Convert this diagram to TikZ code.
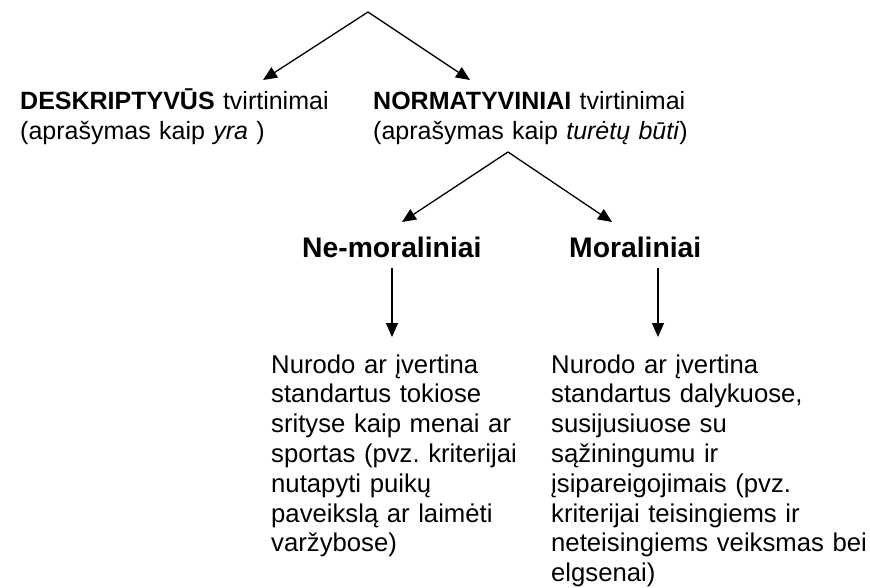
\documentclass[tikz,border=0pt]{standalone}
\usepackage{fontspec}
\setmainfont{Liberation Sans}
\usetikzlibrary{arrows.meta}
\tikzset{
  conn/.style={line width=1.3pt,-{Triangle[length=14pt,width=12pt]}},
  uptext/.style={anchor=base west,inner sep=0pt,align=left,text width=360pt,font=\fontsize{25}{29.3}\selectfont\frenchspacing},
  headtext/.style={anchor=base west,inner sep=0pt,font=\fontsize{28.3}{30}\selectfont\bfseries},
  lowtext/.style={anchor=base west,inner sep=0pt,align=left,text width=330pt,font=\fontsize{25.7}{29.8}\selectfont\frenchspacing}
}
\begin{document}
\begin{tikzpicture}[x=1pt,y=-1pt]
\useasboundingbox (0,0) rectangle (870,588);
\coordinate (top) at (368,12);
\coordinate (tipD) at (263,80);
\coordinate (tipN) at (470,80);
\node[uptext] (desk) at (20,110) {\textbf{DESKRIPTYVŪS} tvirtinimai\\(aprašymas kaip \textit{yra} )};
\node[uptext] (norm) at (373,110) {\textbf{NORMATYVINIAI} tvirtinimai\\(aprašymas kaip \textit{turėtų būti})};
\draw[conn] (top) -- (tipD);
\draw[conn] (top) -- (tipN);
\coordinate (top2) at (508,152);
\coordinate (tipNM) at (402,222);
\coordinate (tipM) at (612,222);
\draw (top2) edge[conn] (tipNM) edge[conn] (tipM);
\node[headtext] (nemor) at (302,258) {Ne-moraliniai};
\node[headtext] (mor) at (569,258) {Moraliniai};
\coordinate (a1s) at (392,268);
\coordinate (a1e) at (392,337);
\coordinate (a2s) at (658,268);
\coordinate (a2e) at (658,337);
\draw[conn] (a1s) -- (a1e);
\draw[conn] (a2s) -- (a2e);
\node[lowtext] (nemortxt) at (271,373) {Nurodo ar įvertina\\standartus tokiose\\srityse kaip menai ar\\sportas (pvz. kriterijai\\nutapyti puikų\\paveikslą ar laimėti\\varžybose)};
\node[lowtext] (mortxt) at (551,373) {Nurodo ar įvertina\\standartus dalykuose,\\susijusiuose su\\sąžiningumu ir\\įsipareigojimais (pvz.\\kriterijai teisingiems ir\\neteisingiems veiksmas bei\\elgsenai)};
\end{tikzpicture}
\end{document}
